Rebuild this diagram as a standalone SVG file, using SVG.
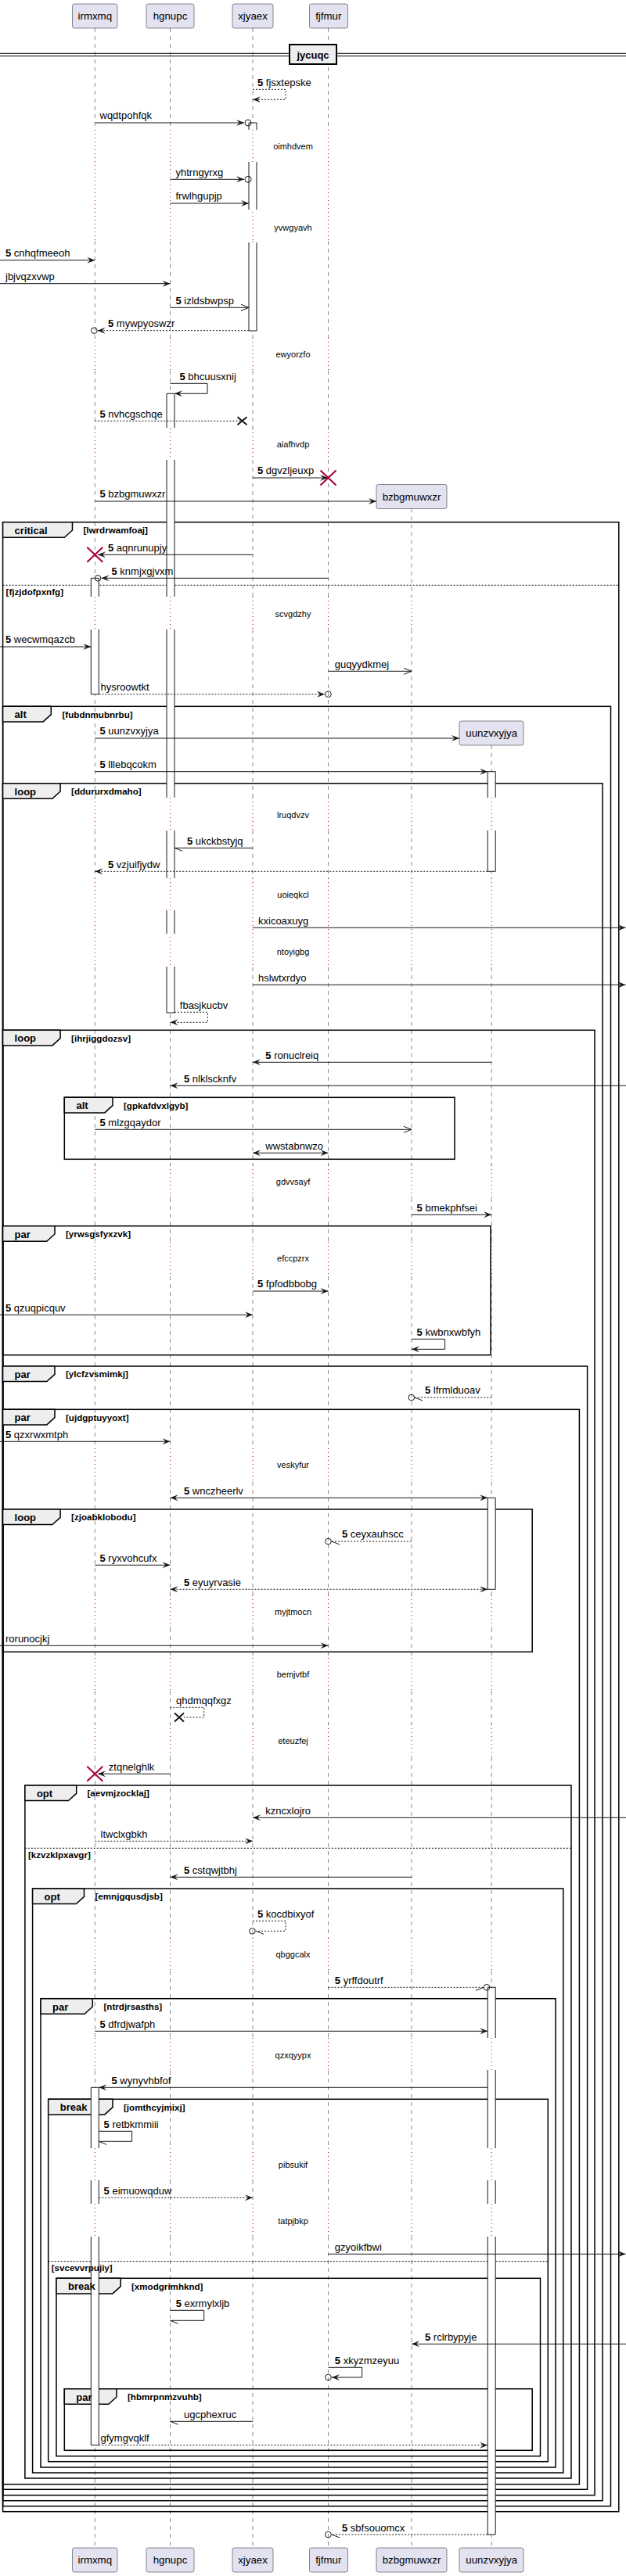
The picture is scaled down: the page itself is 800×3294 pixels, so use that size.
<svg xmlns="http://www.w3.org/2000/svg" width="800" height="3294" viewBox="0 0 800 3294">
<style>
text{font-family:"Liberation Sans",Arial,Helvetica,sans-serif;fill:#000}
.pb{fill:#E2E2F0;stroke:#181818;stroke-width:0.5}
.pn{font-size:13.3px;text-anchor:middle}
.ll{fill:none;stroke:#181818;stroke-width:0.5;stroke-dasharray:5,5}
.dl{fill:none;stroke:#A80036;stroke-width:1;stroke-dasharray:1,4}
.aw{fill:#fff;stroke:none}
.as{fill:none;stroke:#181818;stroke-width:1}
.m{fill:none;stroke:#181818;stroke-width:1}
.d{stroke-dasharray:2,2}
.ms{font-size:13px}
.n{font-weight:bold}
.dt{font-size:11px;text-anchor:middle}
.g{fill:none;stroke:#000;stroke-width:1.5}
.tab{fill:#EEEEEE;stroke:#000;stroke-width:1.5}
.kw{font-size:13px;font-weight:bold}
.gd{font-size:11.6px;font-weight:bold}
.sep{stroke:#000;stroke-width:1;stroke-dasharray:2,2;fill:none}
.cir{fill:none;stroke:#181818;stroke-width:1}
.xr{stroke:#A80036;stroke-width:2}
.xb{stroke:#181818;stroke-width:2}
</style>
<defs>
<marker id="f" viewBox="0 0 10 8" refX="10" refY="4" markerWidth="10" markerHeight="8" markerUnits="userSpaceOnUse" orient="auto-start-reverse" overflow="visible"><path d="M0,0 L10,4 L0,8 L4,4 Z" fill="#181818"/></marker>
<marker id="op" viewBox="0 0 10 8" refX="10" refY="4" markerWidth="10" markerHeight="8" markerUnits="userSpaceOnUse" orient="auto" overflow="visible"><path d="M0,0 L10,4 L0,8" fill="none" stroke="#181818" stroke-width="1"/></marker>
<marker id="hl" viewBox="0 0 10 8" refX="10" refY="4" markerWidth="10" markerHeight="8" markerUnits="userSpaceOnUse" orient="auto" overflow="visible"><path d="M0,0 L10,4" fill="none" stroke="#181818" stroke-width="1"/></marker>
<marker id="hr" viewBox="0 0 10 8" refX="10" refY="4" markerWidth="10" markerHeight="8" markerUnits="userSpaceOnUse" orient="auto" overflow="visible"><path d="M10,4 L0,8" fill="none" stroke="#181818" stroke-width="1"/></marker>
<path id="ldA" class="ll" d="M0,36V166M0,308V432M0,474V548M0,588V763M0,805V1020M0,1062V1123M0,1237V1490M0,1532V1588M0,1632V1852M0,1895V2040M0,2082V2120M0,2162V2205M0,2247V2478M0,2520V2606M0,2648V2747M0,2788V2818M0,2860V3258"/>
<path id="ldB" class="ll" d="M0,650.5V763M0,805V1020M0,1062V1123M0,1237V1490M0,1532V1588M0,1632V1852M0,1895V2040M0,2082V2120M0,2162V2205M0,2247V2478M0,2520V2606M0,2648V2747M0,2788V2818M0,2860V3258"/>
<path id="ldC" class="ll" d="M0,953V1020M0,1062V1123M0,1237V1490M0,1532V1588M0,1632V1852M0,1895V2040M0,2082V2120M0,2162V2205M0,2247V2478M0,2520V2606M0,2648V2747M0,2788V2818M0,2860V3258"/>
<path id="lpA" class="dl" d="M0,166V308M0,432V474M0,548V588M0,763V805M0,1020V1062M0,1123V1237M0,1490V1532M0,1588V1632M0,1852V1895M0,2040V2082M0,2120V2162M0,2205V2247M0,2478V2520M0,2606V2648M0,2747V2788M0,2818V2860"/>
<path id="lpB" class="dl" d="M0,763V805M0,1020V1062M0,1123V1237M0,1490V1532M0,1588V1632M0,1852V1895M0,2040V2082M0,2120V2162M0,2205V2247M0,2478V2520M0,2606V2648M0,2747V2788M0,2818V2860"/>
<path id="lpC" class="dl" d="M0,1020V1062M0,1123V1237M0,1490V1532M0,1588V1632M0,1852V1895M0,2040V2082M0,2120V2162M0,2205V2247M0,2478V2520M0,2606V2648M0,2747V2788M0,2818V2860"/>
</defs>
<rect width="800" height="3294" fill="#fff"/>

<g id="lifelines">
<use href="#ldA" x="121.3"/><use href="#lpA" x="121.3"/>
<use href="#ldA" x="217.5"/><use href="#lpA" x="217.5"/>
<use href="#ldA" x="323"/><use href="#lpA" x="323"/>
<use href="#ldA" x="419.5"/><use href="#lpA" x="419.5"/>
<use href="#ldB" x="526"/><use href="#lpB" x="526"/>
<use href="#ldC" x="628.2"/><use href="#lpC" x="628.2"/>
</g>

<g id="p-irmxmq"><rect class="pb" x="92.5" y="5" width="57.5" height="31" rx="2.5"/><text class="pn" x="121.3" y="25.3">irmxmq</text><rect class="pb" x="92.5" y="3258" width="57.5" height="31" rx="2.5"/><text class="pn" x="121.3" y="3278.3">irmxmq</text></g>
<g id="p-hgnupc"><rect class="pb" x="187" y="5" width="61" height="31" rx="2.5"/><text class="pn" x="217.5" y="25.3">hgnupc</text><rect class="pb" x="187" y="3258" width="61" height="31" rx="2.5"/><text class="pn" x="217.5" y="3278.3">hgnupc</text></g>
<g id="p-xjyaex"><rect class="pb" x="297" y="5" width="52" height="31" rx="2.5"/><text class="pn" x="323" y="25.3">xjyaex</text><rect class="pb" x="297" y="3258" width="52" height="31" rx="2.5"/><text class="pn" x="323" y="3278.3">xjyaex</text></g>
<g id="p-fjfmur"><rect class="pb" x="395.5" y="5" width="49" height="31" rx="2.5"/><text class="pn" x="419.8" y="25.3">fjfmur</text><rect class="pb" x="395.5" y="3258" width="49" height="31" rx="2.5"/><text class="pn" x="419.8" y="3278.3">fjfmur</text></g>
<g id="p-bzbgmuwxzr"><rect class="pb" x="481" y="619.5" width="90" height="31" rx="2.5"/><text class="pn" x="526" y="639.8">bzbgmuwxzr</text><rect class="pb" x="481" y="3258" width="90" height="31" rx="2.5"/><text class="pn" x="526" y="3278.3">bzbgmuwxzr</text></g>
<g id="p-uunzvxyjya"><rect class="pb" x="587" y="922" width="82" height="31" rx="2.5"/><text class="pn" x="628.2" y="942.3">uunzvxyjya</text><rect class="pb" x="587" y="3258" width="82" height="31" rx="2.5"/><text class="pn" x="628.2" y="3278.3">uunzvxyjya</text></g>

<g id="divider-jycuqc">
<line x1="0" y1="68.3" x2="800" y2="68.3" stroke="#000" stroke-width="1"/>
<line x1="0" y1="71.7" x2="800" y2="71.7" stroke="#000" stroke-width="1"/>
<rect x="370" y="57" width="60" height="25" fill="#EEEEEE" stroke="#000" stroke-width="2"/>
<text x="400" y="74.5" font-size="13" font-weight="bold" text-anchor="middle">jycuqc</text>
</g>

<g id="groups">
<g id="grp-critical">
<rect class="g" x="3.6" y="667.7" width="787.2" height="2544"/>
<path class="tab" d="M3.6,667.7H92.5V678L82.3,687.3H3.6Z"/>
<line class="sep" x1="3.6" y1="748.3" x2="790.8" y2="748.3"/>
</g>
<g id="grp-alt1">
<rect class="g" x="3.6" y="903.3" width="776.9" height="2301.4"/>
<path class="tab" d="M3.6,903.3H65.3V913.6L55.1,922.9H3.6Z"/>
</g>
<g id="grp-loop1">
<rect class="g" x="3.6" y="1001.7" width="766.4" height="2196"/>
<path class="tab" d="M3.6,1001.7H77.1V1012L66.9,1021.3H3.6Z"/>
</g>
<g id="grp-loop2">
<rect class="g" x="3.6" y="1317.3" width="756.4" height="1873.4"/>
<path class="tab" d="M3.6,1317.3H77.1V1327.6L66.9,1336.9H3.6Z"/>
</g>
<g id="grp-alt2">
<rect class="g" x="82.3" y="1403.3" width="498.7" height="79"/>
<path class="tab" d="M82.3,1403.3H144V1413.6L133.8,1422.9H82.3Z"/>
</g>
<g id="grp-par1">
<rect class="g" x="3.6" y="1567.7" width="623.4" height="165"/>
<path class="tab" d="M3.6,1567.7H70V1578L59.8,1587.3H3.6Z"/>
</g>
<g id="grp-par2">
<rect class="g" x="3.6" y="1747" width="747" height="1436.3"/>
<path class="tab" d="M3.6,1747H70V1757.3L59.8,1766.6H3.6Z"/>
</g>
<g id="grp-par3">
<rect class="g" x="3.6" y="1802.3" width="736.8" height="1374.4"/>
<path class="tab" d="M3.6,1802.3H70V1812.6L59.8,1821.9H3.6Z"/>
</g>
<g id="grp-loop3">
<rect class="g" x="3.6" y="1930" width="676.6" height="182.3"/>
<path class="tab" d="M3.6,1930H77.1V1940.3L66.9,1949.6H3.6Z"/>
</g>
<g id="grp-opt1">
<rect class="g" x="31.9" y="2283" width="698.1" height="886"/>
<path class="tab" d="M31.9,2283H97.7V2293.3L87.5,2302.6H31.9Z"/>
<line class="sep" x1="31.9" y1="2363.3" x2="730" y2="2363.3"/>
</g>
<g id="grp-opt2">
<rect class="g" x="41.6" y="2415" width="678.2" height="747"/>
<path class="tab" d="M41.6,2415H107.5V2425.3L97.3,2434.6H41.6Z"/>
</g>
<g id="grp-par4">
<rect class="g" x="52" y="2555.7" width="658" height="599.3"/>
<path class="tab" d="M52,2555.7H118.3V2566L108.1,2575.3H52Z"/>
</g>
<g id="grp-break1">
<rect class="g" x="61.7" y="2684.3" width="638.6" height="463.4"/>
<path class="tab" d="M61.7,2684.3H144V2694.6L133.8,2703.9H61.7Z"/>
<line class="sep" x1="61.7" y1="2891.7" x2="700.3" y2="2891.7"/>
</g>
<g id="grp-break2">
<rect class="g" x="72" y="2913.3" width="618.5" height="227.4"/>
<path class="tab" d="M72,2913.3H154.2V2923.6L144,2932.9H72Z"/>
</g>
<g id="grp-par5">
<rect class="g" x="82.3" y="3054.7" width="597.9" height="78.6"/>
<path class="tab" d="M82.3,3054.7H149V3065L138.8,3074.3H82.3Z"/>
</g>
</g>

<g id="activations">
<rect class="aw" x="318" y="157" width="10" height="9"/><path class="as" d="M318,166V157H328V166"/>
<rect class="aw" x="318" y="207" width="10" height="61"/><path class="as" d="M318,207V268M328,207V268"/>
<rect class="aw" x="318" y="310" width="10" height="113"/><path class="as" d="M318,310V423H328V310"/>

<rect class="aw" x="213" y="503.3" width="10" height="44"/><path class="as" d="M213,547V503.3H223V547"/>
<rect class="aw" x="213" y="588" width="10" height="175"/><path class="as" d="M213,588V763M223,588V763"/>
<rect class="aw" x="213" y="805" width="10" height="215"/><path class="as" d="M213,805V1020M223,805V1020"/>
<rect class="aw" x="213" y="1062" width="10" height="61"/><path class="as" d="M213,1062V1123M223,1062V1123"/>
<rect class="aw" x="213" y="1164" width="10" height="30"/><path class="as" d="M213,1164V1194M223,1164V1194"/>
<rect class="aw" x="213" y="1236" width="10" height="59"/><path class="as" d="M213,1236V1295H223V1236"/>

<rect class="aw" x="116.3" y="739.3" width="10" height="23.7"/><path class="as" d="M116.3,763V739.3H126.3V763"/>
<rect class="aw" x="116.3" y="805" width="10" height="82.7"/><path class="as" d="M116.3,805V887.7H126.3V805"/>

<rect class="aw" x="623.2" y="986.7" width="10" height="33.3"/><path class="as" d="M623.2,1020V986.7H633.2V1020"/>
<rect class="aw" x="623.2" y="1062" width="10" height="52.3"/><path class="as" d="M623.2,1062V1114.3H633.2V1062"/>

<rect class="aw" x="623.2" y="1915.3" width="10" height="117"/><path class="as" d="M623.2,1915.3H633.2V2032.3H623.2Z"/>

<rect class="aw" x="623.2" y="2541.3" width="10" height="64.7"/><path class="as" d="M623.2,2606V2541.3H633.2V2606"/>
<rect class="aw" x="623.2" y="2647" width="10" height="100"/><path class="as" d="M623.2,2647V2747M633.2,2647V2747"/>
<rect class="aw" x="623.2" y="2788" width="10" height="30"/><path class="as" d="M623.2,2788V2818M633.2,2788V2818"/>
<rect class="aw" x="623.2" y="2860" width="10" height="381"/><path class="as" d="M623.2,2860V3241H633.2V2860"/>

<rect class="aw" x="116.3" y="2669.3" width="10" height="77.7"/><path class="as" d="M116.3,2747V2669.3H126.3V2747"/>
<rect class="aw" x="116.3" y="2788" width="10" height="30"/><path class="as" d="M116.3,2788V2818M126.3,2788V2818"/>
<rect class="aw" x="116.3" y="2860" width="10" height="266.7"/><path class="as" d="M116.3,2860V3126.7H126.3V2860"/>
</g>

<g id="group-labels">
<text class="kw" x="18.6" y="682.7">critical</text>
<text class="gd" x="106.5" y="682">[lwrdrwamfoaj]</text>
<text class="gd" x="7.6" y="760.5">[fjzjdofpxnfg]</text>
<text class="kw" x="18.6" y="918.3">alt</text>
<text class="gd" x="79.5" y="917.6">[fubdnmubnrbu]</text>
<text class="kw" x="18.6" y="1016.7">loop</text>
<text class="gd" x="91.1" y="1016">[ddururxdmaho]</text>
<text class="kw" x="18.6" y="1332.3">loop</text>
<text class="gd" x="91.1" y="1331.6">[ihrjiggdozsv]</text>
<text class="kw" x="97.5" y="1418.3">alt</text>
<text class="gd" x="158" y="1417.6">[gpkafdvxlgyb]</text>
<text class="kw" x="18.6" y="1582.7">par</text>
<text class="gd" x="84" y="1582">[yrwsgsfyxzvk]</text>
<text class="kw" x="18.6" y="1762">par</text>
<text class="gd" x="84" y="1761.3">[ylcfzvsmimkj]</text>
<text class="kw" x="18.6" y="1817.3">par</text>
<text class="gd" x="84" y="1816.6">[ujdgptuyyoxt]</text>
<text class="kw" x="18.6" y="1945">loop</text>
<text class="gd" x="91.1" y="1944.3">[zjoabklobodu]</text>
<text class="kw" x="46.9" y="2298">opt</text>
<text class="gd" x="111.5" y="2297.3">[aevmjzocklaj]</text>
<text class="gd" x="35.9" y="2375.5">[kzvzklpxavgr]</text>
<text class="kw" x="56.6" y="2430">opt</text>
<text class="gd" x="121.5" y="2429.3">[emnjgqusdjsb]</text>
<text class="kw" x="67" y="2570.7">par</text>
<text class="gd" x="132.5" y="2570">[ntrdjrsasths]</text>
<text class="kw" x="76.7" y="2699.3">break</text>
<text class="gd" x="158" y="2698.6">[jomthcyjmixj]</text>
<text class="gd" x="65.7" y="2903.5">[svcevvrpujiy]</text>
<text class="kw" x="87" y="2928.3">break</text>
<text class="gd" x="168" y="2927.6">[xmodgrimhknd]</text>
<text class="kw" x="97.3" y="3069.7">par</text>
<text class="gd" x="163" y="3069">[hbmrpnmzvuhb]</text>
</g>

<g id="delays">
<text class="dt" x="374.5" y="191">oimhdvem</text>
<text class="dt" x="374.5" y="294.7">yvwgyavh</text>
<text class="dt" x="374.5" y="457">ewyorzfo</text>
<text class="dt" x="374.5" y="572.3">aiafhvdp</text>
<text class="dt" x="374.5" y="789">scvgdzhy</text>
<text class="dt" x="374.5" y="1046">lruqdvzv</text>
<text class="dt" x="374.5" y="1148">uoieqkcl</text>
<text class="dt" x="374.5" y="1220.7">ntoyigbg</text>
<text class="dt" x="374.5" y="1515">gdvvsayf</text>
<text class="dt" x="374.5" y="1613.3">efccpzrx</text>
<text class="dt" x="374.5" y="1877.3">veskyfur</text>
<text class="dt" x="374.5" y="2065.3">myjtmocn</text>
<text class="dt" x="374.5" y="2145">bemjvtbf</text>
<text class="dt" x="374.5" y="2230">eteuzfej</text>
<text class="dt" x="374.5" y="2503.3">qbggcalx</text>
<text class="dt" x="374.5" y="2631.7">qzxqyypx</text>
<text class="dt" x="374.5" y="2772.3">pibsukif</text>
<text class="dt" x="374.5" y="2844">tatpjbkp</text>
</g>

<g id="connectors">
<polyline class="m d" points="323,114.3 365,114.3 365,127.3 323,127.3" marker-end="url(#f)"/>
<text class="ms" x="329" y="109.5"><tspan class="n">5</tspan> fjsxtepske</text>

<line class="m" x1="121.3" y1="157" x2="312" y2="157" marker-end="url(#f)"/><circle class="cir" cx="317" cy="157" r="4"/>
<text class="ms" x="127.5" y="152">wqdtpohfqk</text>

<line class="m" x1="217.5" y1="229.3" x2="312" y2="229.3" marker-end="url(#f)"/><circle class="cir" cx="317" cy="229.3" r="4"/>
<text class="ms" x="224.5" y="224.5">yhtrngyrxg</text>

<line class="m" x1="217.5" y1="260" x2="318" y2="260" marker-end="url(#f)"/>
<text class="ms" x="224.5" y="255">frwlhgupjp</text>

<line class="m" x1="0" y1="332.7" x2="121.3" y2="332.7" marker-end="url(#f)"/>
<text class="ms" x="7" y="328"><tspan class="n">5</tspan> cnhqfmeeoh</text>

<line class="m" x1="0" y1="362.7" x2="217.5" y2="362.7" marker-end="url(#f)"/>
<text class="ms" x="7" y="358">jbjvqzxvwp</text>

<line class="m" x1="217.5" y1="393.3" x2="318" y2="393.3" marker-end="url(#op)"/>
<text class="ms" x="224.5" y="388.5"><tspan class="n">5</tspan> izldsbwpsp</text>

<line class="m d" x1="318" y1="422.7" x2="124.5" y2="422.7" marker-end="url(#f)"/><circle class="cir" cx="120.3" cy="422.7" r="3.8"/>
<text class="ms" x="138" y="418"><tspan class="n">5</tspan> mywpyoswzr</text>

<polyline class="m" points="217.5,490.3 265,490.3 265,503.3 223,503.3" marker-end="url(#f)"/>
<text class="ms" x="229.5" y="485.5"><tspan class="n">5</tspan> bhcuusxnij</text>

<line class="m d" x1="121.3" y1="538.3" x2="309.5" y2="538.3"/>
<path class="xb" d="M303.5,533.3L315.5,543.3M315.5,533.3L303.5,543.3"/>
<text class="ms" x="127.5" y="533.5"><tspan class="n">5</tspan> nvhcgschqe</text>

<line class="m" x1="323" y1="611" x2="419" y2="611" marker-end="url(#f)"/>
<path class="xr" d="M409.5,601.5L429.5,620.5M429.5,601.5L409.5,620.5"/>
<text class="ms" x="329" y="606"><tspan class="n">5</tspan> dgvzljeuxp</text>

<line class="m" x1="121.3" y1="641" x2="481" y2="641" marker-end="url(#f)"/>
<text class="ms" x="127.5" y="636"><tspan class="n">5</tspan> bzbgmuwxzr</text>

<line class="m" x1="323" y1="709.3" x2="125" y2="709.3" marker-end="url(#f)"/>
<path class="xr" d="M111.3,699.8L131.3,718.8M131.3,699.8L111.3,718.8"/>
<text class="ms" x="138" y="704.5"><tspan class="n">5</tspan> aqnrunupjy</text>

<line class="m" x1="419.5" y1="739.3" x2="129.5" y2="739.3" marker-end="url(#f)"/><circle class="cir" cx="125" cy="739.3" r="3.8"/>
<text class="ms" x="142.5" y="734.5"><tspan class="n">5</tspan> knmjxgjvxm</text>

<line class="m" x1="0" y1="827" x2="116.3" y2="827" marker-end="url(#f)"/>
<text class="ms" x="7" y="822"><tspan class="n">5</tspan> wecwmqazcb</text>

<line class="m" x1="419.5" y1="858.3" x2="526" y2="858.3" marker-end="url(#op)"/>
<text class="ms" x="427.8" y="853.5">guqyydkmej</text>

<line class="m d" x1="126.3" y1="887.7" x2="415" y2="887.7" marker-end="url(#f)"/><circle class="cir" cx="419.5" cy="887.7" r="3.8"/>
<text class="ms" x="128.5" y="883">hysroowtkt</text>

<line class="m" x1="121.3" y1="944" x2="587" y2="944" marker-end="url(#f)"/>
<text class="ms" x="127.5" y="939"><tspan class="n">5</tspan> uunzvxyjya</text>

<line class="m" x1="121.3" y1="986.7" x2="623.2" y2="986.7" marker-end="url(#f)"/>
<text class="ms" x="127.5" y="982"><tspan class="n">5</tspan> lllebqcokm</text>

<line class="m" x1="323" y1="1084.3" x2="223" y2="1084.3" marker-end="url(#hl)"/>
<text class="ms" x="239" y="1079.5"><tspan class="n">5</tspan> ukckbstyjq</text>

<line class="m d" x1="623.2" y1="1114.3" x2="121.3" y2="1114.3" marker-end="url(#f)"/>
<text class="ms" x="138" y="1109.5"><tspan class="n">5</tspan> vzjuifjydw</text>

<line class="m" x1="323" y1="1186.3" x2="799.5" y2="1186.3" marker-end="url(#f)"/>
<text class="ms" x="330" y="1181.5">kxicoaxuyg</text>

<line class="m" x1="323" y1="1259.3" x2="799.5" y2="1259.3" marker-end="url(#f)"/>
<text class="ms" x="330" y="1254.5">hslwtxrdyo</text>

<polyline class="m d" points="223,1294.3 265.3,1294.3 265.3,1307.3 217.5,1307.3" marker-end="url(#f)"/>
<text class="ms" x="229.8" y="1289.5">fbasjkucbv</text>

<line class="m" x1="628.2" y1="1358.3" x2="323" y2="1358.3" marker-end="url(#f)"/>
<text class="ms" x="339.3" y="1353.5"><tspan class="n">5</tspan> ronuclreiq</text>

<line class="m" x1="800" y1="1388.3" x2="217.5" y2="1388.3" marker-end="url(#f)"/>
<text class="ms" x="235" y="1383.5"><tspan class="n">5</tspan> nlklscknfv</text>

<line class="m" x1="121.3" y1="1444.3" x2="526" y2="1444.3" marker-end="url(#op)"/>
<text class="ms" x="127.5" y="1439.5"><tspan class="n">5</tspan> mlzgqaydor</text>

<line class="m" x1="323" y1="1474.3" x2="419.5" y2="1474.3" marker-start="url(#f)" marker-end="url(#f)"/>
<text class="ms" x="339.3" y="1469.5">wwstabnwzo</text>

<line class="m" x1="526" y1="1553.3" x2="628.2" y2="1553.3" marker-end="url(#f)"/>
<text class="ms" x="532.6" y="1548.5"><tspan class="n">5</tspan> bmekphfsei</text>

<line class="m" x1="323" y1="1651" x2="419.5" y2="1651" marker-end="url(#f)"/>
<text class="ms" x="329" y="1646"><tspan class="n">5</tspan> fpfodbbobg</text>

<line class="m" x1="0" y1="1681.3" x2="323" y2="1681.3" marker-end="url(#f)"/>
<text class="ms" x="7" y="1676.5"><tspan class="n">5</tspan> qzuqpicquv</text>

<polyline class="m" points="526,1712.3 568.6,1712.3 568.6,1725.3 526,1725.3" marker-end="url(#f)"/>
<text class="ms" x="532.6" y="1707.5"><tspan class="n">5</tspan> kwbnxwbfyh</text>

<line class="m d" x1="628.2" y1="1787" x2="530" y2="1787" marker-end="url(#hl)"/><circle class="cir" cx="525.8" cy="1787" r="3.8"/>
<text class="ms" x="543" y="1782"><tspan class="n">5</tspan> lfrmlduoav</text>

<line class="m" x1="0" y1="1843.3" x2="217.5" y2="1843.3" marker-end="url(#f)"/>
<text class="ms" x="7" y="1838.5"><tspan class="n">5</tspan> qzxrwxmtph</text>

<line class="m" x1="217.5" y1="1915.3" x2="623.2" y2="1915.3" marker-start="url(#f)" marker-end="url(#f)"/>
<text class="ms" x="235" y="1910.5"><tspan class="n">5</tspan> wnczheerlv</text>

<line class="m d" x1="526" y1="1971" x2="424" y2="1971" marker-end="url(#hl)"/><circle class="cir" cx="419.5" cy="1971" r="3.8"/>
<text class="ms" x="437" y="1966"><tspan class="n">5</tspan> ceyxauhscc</text>

<line class="m" x1="121.3" y1="2001.3" x2="217.5" y2="2001.3" marker-end="url(#f)"/>
<text class="ms" x="127.5" y="1996.5"><tspan class="n">5</tspan> ryxvohcufx</text>

<line class="m d" x1="217.5" y1="2032.3" x2="623.2" y2="2032.3" marker-start="url(#f)" marker-end="url(#f)"/>
<text class="ms" x="235" y="2027.5"><tspan class="n">5</tspan> eyuyrvasie</text>

<line class="m" x1="0" y1="2104.3" x2="419.5" y2="2104.3" marker-end="url(#f)"/>
<text class="ms" x="7" y="2099.5">rorunocjkj</text>

<polyline class="m d" points="217.5,2183.3 260.7,2183.3 260.7,2196 235,2196"/>
<path class="xb" d="M223,2190.5L235,2201.5M235,2190.5L223,2201.5"/>
<text class="ms" x="225" y="2178.5">qhdmqqfxgz</text>

<line class="m" x1="217.5" y1="2268.3" x2="125" y2="2268.3" marker-end="url(#f)"/>
<path class="xr" d="M111.3,2258.8L131.3,2277.8M131.3,2258.8L111.3,2277.8"/>
<text class="ms" x="138.8" y="2263.5">ztqnelghlk</text>

<line class="m" x1="800" y1="2324.3" x2="323" y2="2324.3" marker-end="url(#f)"/>
<text class="ms" x="339.3" y="2319.5">kzncxlojro</text>

<line class="m d" x1="121.3" y1="2354.3" x2="323" y2="2354.3" marker-end="url(#f)"/>
<text class="ms" x="128.5" y="2349.5">ltwclxgbkh</text>

<line class="m" x1="526" y1="2400.3" x2="217.5" y2="2400.3" marker-end="url(#f)"/>
<text class="ms" x="235" y="2395.5"><tspan class="n">5</tspan> cstqwjtbhj</text>

<polyline class="m d" points="323,2456.3 365,2456.3 365,2469.3 327,2469.3" marker-end="url(#hl)"/><circle class="cir" cx="322.5" cy="2469.3" r="3.8"/>
<text class="ms" x="329" y="2451.5"><tspan class="n">5</tspan> kocdbixyof</text>

<line class="m d" x1="419.5" y1="2541.3" x2="618" y2="2541.3" marker-end="url(#hr)"/><circle class="cir" cx="622" cy="2541.3" r="3.8"/>
<text class="ms" x="427.8" y="2536.5"><tspan class="n">5</tspan> yrffdoutrf</text>

<line class="m" x1="121.3" y1="2597.3" x2="623.2" y2="2597.3" marker-end="url(#f)"/>
<text class="ms" x="127.5" y="2592.5"><tspan class="n">5</tspan> dfrdjwafph</text>

<line class="m" x1="623.2" y1="2669.3" x2="126.3" y2="2669.3" marker-end="url(#f)"/>
<text class="ms" x="142.5" y="2664.5"><tspan class="n">5</tspan> wynyvhbfof</text>

<polyline class="m" points="126.3,2725.3 168.6,2725.3 168.6,2738.3 126.3,2738.3" marker-end="url(#hl)"/>
<text class="ms" x="132.6" y="2720.5"><tspan class="n">5</tspan> retbkmmiii</text>

<line class="m d" x1="126.3" y1="2810.3" x2="323" y2="2810.3" marker-end="url(#f)"/>
<text class="ms" x="132.6" y="2805.5"><tspan class="n">5</tspan> eimuowqduw</text>

<line class="m" x1="419.5" y1="2882.3" x2="799.5" y2="2882.3" marker-end="url(#f)"/>
<text class="ms" x="427.8" y="2877.5">gzyoikfbwi</text>

<polyline class="m" points="217.5,2954.3 260.7,2954.3 260.7,2967.3 217.5,2967.3" marker-end="url(#hl)"/>
<text class="ms" x="224.7" y="2949.5"><tspan class="n">5</tspan> exrmylxljb</text>

<line class="m" x1="800" y1="2997.3" x2="526" y2="2997.3" marker-end="url(#f)"/>
<text class="ms" x="543" y="2992.5"><tspan class="n">5</tspan> rclrbypyje</text>

<polyline class="m" points="419.5,3027.3 462.7,3027.3 462.7,3040 424,3040" marker-end="url(#f)"/><circle class="cir" cx="419.5" cy="3040" r="3.8"/>
<text class="ms" x="427.8" y="3022.5"><tspan class="n">5</tspan> xkyzmzeyuu</text>

<line class="m" x1="323" y1="3096.3" x2="217.5" y2="3096.3" marker-end="url(#hl)"/>
<text class="ms" x="235" y="3091.5">ugcphexruc</text>

<line class="m d" x1="126.3" y1="3126.7" x2="623.2" y2="3126.7" marker-end="url(#f)"/>
<text class="ms" x="128.5" y="3122">gfymgvqklf</text>

<line class="m d" x1="623.2" y1="3241" x2="424" y2="3241" marker-end="url(#hl)"/><circle class="cir" cx="419.5" cy="3241" r="3.8"/>
<text class="ms" x="437" y="3236.5"><tspan class="n">5</tspan> sbfsouomcx</text>
</g>
</svg>
